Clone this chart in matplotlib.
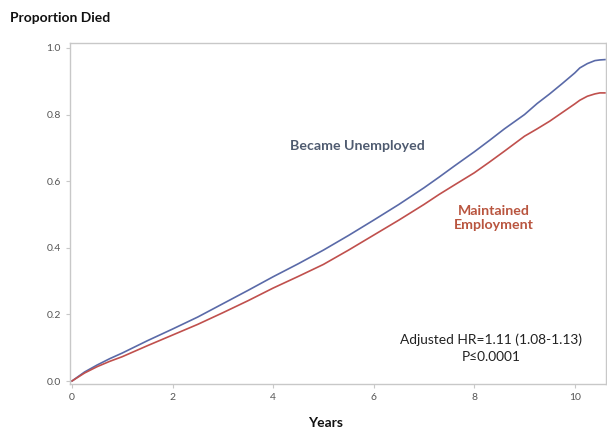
import matplotlib
matplotlib.use("Agg")
import matplotlib.pyplot as plt

plt.rcParams["font.family"] = ["Lato", "DejaVu Sans"]

# 读图估计的累计死亡比例
years = [0, 0.25, 0.5, 0.75, 1, 1.5, 2, 2.5, 3, 3.5, 4, 4.5, 5, 5.5, 6, 6.5,
         7, 7.3, 7.6, 8, 8.3, 8.6, 9, 9.25, 9.5, 9.75, 10, 10.1, 10.25, 10.4, 10.5, 10.6]
unemployed = [0, 0.027, 0.048, 0.067, 0.084, 0.121, 0.156, 0.192, 0.232, 0.272,
              0.313, 0.352, 0.393, 0.437, 0.483, 0.530, 0.580, 0.612, 0.645, 0.688,
              0.722, 0.757, 0.800, 0.833, 0.862, 0.893, 0.925, 0.940, 0.953, 0.962,
              0.964, 0.965]
employed = [0, 0.024, 0.043, 0.059, 0.073, 0.106, 0.138, 0.170, 0.205, 0.241,
            0.279, 0.314, 0.350, 0.393, 0.438, 0.483, 0.530, 0.560, 0.588, 0.625,
            0.657, 0.690, 0.735, 0.757, 0.780, 0.806, 0.832, 0.843, 0.855, 0.862,
            0.865, 0.865]

xticks = [0, 2, 4, 6, 8, 10]
yticks = [0.0, 0.2, 0.4, 0.6, 0.8, 1.0]

fig = plt.figure(figsize=(6.07, 4.29), dpi=100)
ax = fig.add_axes([0.1153, 0.1049, 0.883, 0.795])

ax.plot(years, unemployed, color="#5a6aa8", linewidth=1.2)
ax.plot(years, employed, color="#c0504d", linewidth=1.2)

ax.set_xlim(-0.04, 10.62)
ax.set_ylim(-0.009, 1.015)
ax.set_xticks(xticks)
ax.set_xticklabels([str(t) for t in xticks])
ax.set_yticks(yticks)
ax.set_yticklabels([f"{t:.1f}" for t in yticks])

for s in ax.spines.values():
    s.set_color("#c8c8c8")
    s.set_linewidth(1.0)
ax.tick_params(colors="#c8c8c8", labelcolor="#555555", labelsize=7.5,
               length=3, width=0.8)

ax.text(5.67, 0.705, "Became Unemployed", color="#4f5b70", fontsize=10.2,
        fontweight="bold", ha="center", va="center")
ax.text(8.39, 0.49, "Maintained\nEmployment", color="#b9553f", fontsize=10.2,
        fontweight="bold", ha="center", va="center", linespacing=1.25)
ax.text(8.33, 0.123, "Adjusted HR=1.11 (1.08-1.13)", color="#222222",
        fontsize=9.9, ha="center", va="center")
ax.text(8.33, 0.072, "P\u22640.0001", color="#222222", fontsize=9.9,
        ha="center", va="center")

fig.text(10 / 607, 1 - 18 / 429, "Proportion Died", fontsize=10,
         fontweight="bold", ha="left", va="center", color="#111111")
fig.text(326 / 607, 1 - 423 / 429, "Years", fontsize=10, fontweight="bold",
         ha="center", va="center", color="#111111")

fig.savefig("out.png", dpi=100)
